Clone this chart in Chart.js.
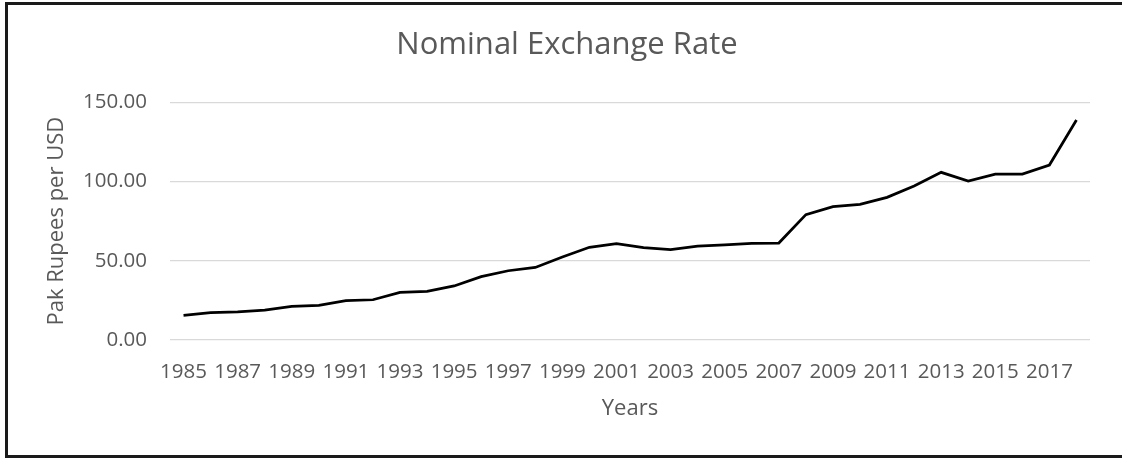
<!DOCTYPE html>
<html>
<head>
<meta charset="utf-8">
<script src="https://cdn.jsdelivr.net/npm/chart.js@4/dist/chart.umd.min.js"></script>
<style>
  html, body { margin: 0; padding: 0; background: #fff; }
  #wrap { position: relative; width: 1122px; height: 459px; overflow: hidden; }
  canvas { position: absolute; left: 0; top: 0; }
  #frame { position: absolute; left: 5px; top: 2px; width: 1200px; height: 450px; border: 3px solid #1a1a1a; pointer-events: none; }
</style>
</head>
<body>
<div id="wrap">
  <canvas id="c" width="1122" height="459"></canvas>
  <div id="frame"></div>
</div>
<script>
const years = ['1985','1986','1987','1988','1989','1990','1991','1992','1993','1994','1995','1996','1997','1998','1999','2000','2001','2002','2003','2004','2005','2006','2007','2008','2009','2010','2011','2012','2013','2014','2015','2016','2017','2018'];
const exchangeRate = [15.6, 17.2, 17.7, 18.9, 21.2, 21.9, 24.8, 25.4, 30.1, 30.7, 34.1, 40.0, 43.7, 45.8, 52.4, 58.5, 60.8, 58.3, 57.0, 59.3, 60.1, 61.0, 61.2, 79.1, 84.1, 85.6, 90.0, 97.2, 105.8, 100.3, 104.7, 104.7, 110.4, 138.8];
const yTicks = [0, 50, 100, 150];

const FONT = "'Open Sans', 'DejaVu Sans', sans-serif";
const GREY = '#595959';

new Chart(document.getElementById('c'), {
  type: 'line',
  data: {
    labels: years,
    datasets: [{
      label: 'Nominal Exchange Rate',
      data: exchangeRate,
      borderColor: '#000000',
      borderWidth: 2.75,
      pointRadius: 0,
      tension: 0,
      fill: false
    }]
  },
  options: {
    responsive: false,
    animation: false,
    layout: { padding: { left: 44, right: 32, top: 0, bottom: 0 } },
    plugins: {
      legend: { display: false },
      tooltip: { enabled: false },
      title: {
        display: true,
        text: 'Nominal Exchange Rate',
        color: GREY,
        font: { family: FONT, size: 31, weight: 'normal', lineHeight: 1.2 },
        padding: { top: 26.4, bottom: 38.7 }
      }
    },
    scales: {
      x: {
        type: 'category',
        offset: true,
        grid: { display: false, drawTicks: false },
        border: { display: false },
        ticks: {
          autoSkip: false,
          maxRotation: 0,
          minRotation: 0,
          padding: 20,
          color: GREY,
          font: { family: FONT, size: 20.5, lineHeight: 1.2 },
          callback: function (value, index) { return index % 2 === 0 ? this.getLabelForValue(value) : ''; }
        },
        title: {
          display: true,
          text: 'Years',
          color: GREY,
          font: { family: FONT, size: 22, lineHeight: 1.2 },
          padding: { top: 0, bottom: 37 }
        },
        afterFit: function (scale) { scale.height = 119; }
      },
      y: {
        min: 0,
        max: 150,
        grid: { color: '#d9d9d9', lineWidth: 1.25, drawTicks: false },
        border: { display: false },
        afterBuildTicks: function (scale) { scale.ticks = yTicks.map(v => ({ value: v })); },
        ticks: {
          padding: 23,
          color: GREY,
          font: { family: FONT, size: 20.5, lineHeight: 1.2 },
          callback: function (v) { return Number(v).toFixed(2); }
        },
        title: {
          display: true,
          text: 'Pak Rupees per USD',
          color: GREY,
          font: { family: FONT, size: 22, lineHeight: 1.2 },
          padding: { top: 0, bottom: 0 }
        },
        afterFit: function (scale) { scale.width = 126; }
      }
    }
  }
});
</script>
</body>
</html>
